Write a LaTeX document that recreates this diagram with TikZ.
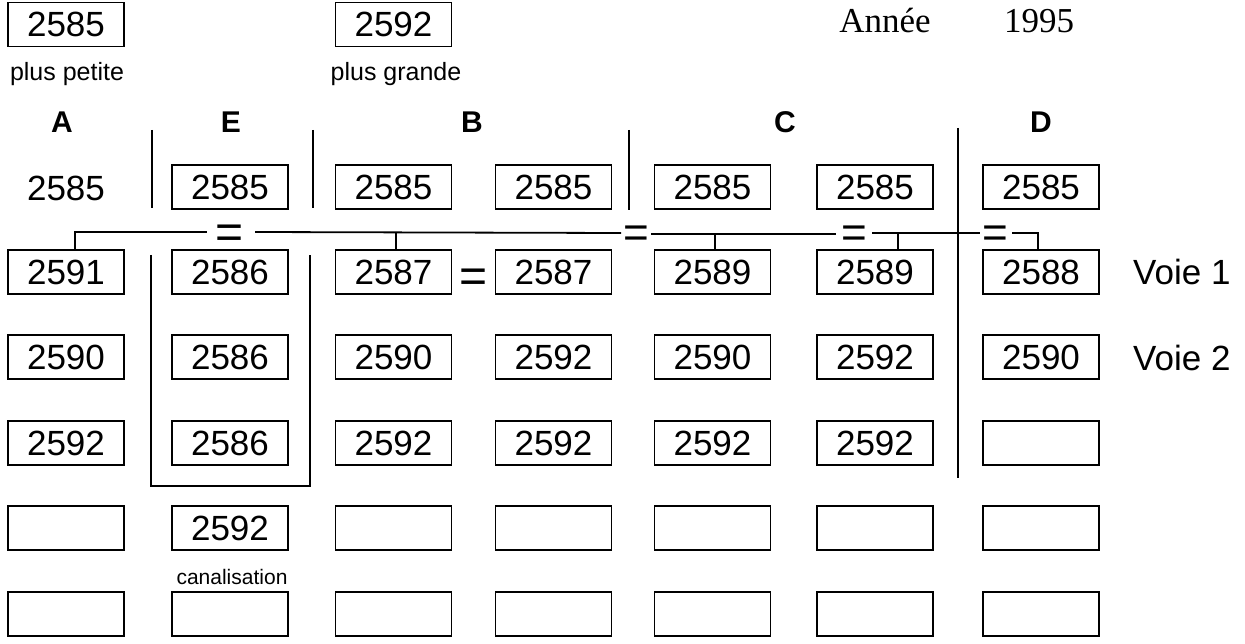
\documentclass[tikz,border=0pt]{standalone}
\usepackage{fontspec}
\setmainfont{Liberation Sans}
\newfontfamily\timesf{Liberation Serif}
\begin{document}
\begin{tikzpicture}[x=1pt,y=-1pt,
  numbox/.style={draw, line width=1.4pt, minimum width=116pt, minimum height=44pt, inner sep=0pt, font=\fontsize{35}{35}\selectfont},
  numtext/.style={inner sep=0pt, font=\fontsize{35}{35}\selectfont},
  head/.style={inner sep=0pt, font=\bfseries\fontsize{30}{30}\selectfont},
  smalltext/.style={inner sep=0pt, font=\fontsize{25}{25}\selectfont},
  tinytext/.style={inner sep=0pt, font=\fontsize{21}{21}\selectfont},
  serift/.style={inner sep=0pt, font=\timesf\fontsize{35}{35}\selectfont},
  eqsign/.style={inner sep=0pt, font=\fontsize{48}{48}\selectfont},
  eqsmall/.style={inner sep=0pt, font=\fontsize{44}{44}\selectfont},
  sepline/.style={line width=2.2pt},
  link/.style={line width=1.8pt}]
\useasboundingbox (0,0) rectangle (1245,644);

% top
\node[numbox] (min) at (66,24.5) {2585};
\node[smalltext] (minlab) at (67,74) {plus petite};
\node[numbox] (max) at (393.5,24.5) {2592};
\node[smalltext] (maxlab) at (396,74) {plus grande};
\node[serift] (annee) at (885,21) {Année};
\node[serift] (year) at (1039,21) {1995};

% headers
\node[head] (hA) at (62,122) {A};
\node[head] (hE) at (231,122) {E};
\node[head] (hB) at (472,122) {B};
\node[head] (hC) at (785,122) {C};
\node[head] (hD) at (1041,122) {D};

% row 0
\node[numtext] (A0) at (66,188) {2585};
\node[numbox] (E0) at (230,187) {2585};
\node[numbox] (B10) at (393.5,187) {2585};
\node[numbox] (B20) at (553.5,187) {2585};
\node[numbox] (C10) at (712.5,187) {2585};
\node[numbox] (C20) at (875,187) {2585};
\node[numbox] (D0) at (1041,187) {2585};

% row 1
\node[numbox] (A1) at (66,272) {2591};
\node[numbox] (E1) at (230,272) {2586};
\node[numbox] (B11) at (393.5,272) {2587};
\node[numbox] (B21) at (553.5,272) {2587};
\node[numbox] (C11) at (712.5,272) {2589};
\node[numbox] (C21) at (875,272) {2589};
\node[numbox] (D1) at (1041,272) {2588};
\node[eqsign] (eqB) at (473.5,281) {=};
\node[numtext,anchor=west] (voie1) at (1133,272) {Voie 1};

% row 2
\node[numbox] (A2) at (66,357) {2590};
\node[numbox] (E2) at (230,357) {2586};
\node[numbox] (B12) at (393.5,357) {2590};
\node[numbox] (B22) at (553.5,357) {2592};
\node[numbox] (C12) at (712.5,357) {2590};
\node[numbox] (C22) at (875,357) {2592};
\node[numbox] (D2) at (1041,357) {2590};
\node[numtext,anchor=west] (voie2) at (1133,358) {Voie 2};

% row 3
\node[numbox] (A3) at (66,443) {2592};
\node[numbox] (E3) at (230,443) {2586};
\node[numbox] (B13) at (393.5,443) {2592};
\node[numbox] (B23) at (553.5,443) {2592};
\node[numbox] (C13) at (712.5,443) {2592};
\node[numbox] (C23) at (875,443) {2592};
\node[numbox] (D3) at (1041,443) {};

% row 4
\node[numbox] (A4) at (66,528) {};
\node[numbox] (E4) at (230,528) {2592};
\node[numbox] (B14) at (393.5,528) {};
\node[numbox] (B24) at (553.5,528) {};
\node[numbox] (C14) at (712.5,528) {};
\node[numbox] (C24) at (875,528) {};
\node[numbox] (D4) at (1041,528) {};
\node[tinytext] (canal) at (232,577) {canalisation};

% row 5
\node[numbox] (A5) at (66,614) {};
\node[numbox] (E5) at (230,614) {};
\node[numbox] (B15) at (393.5,614) {};
\node[numbox] (B25) at (553.5,614) {};
\node[numbox] (C15) at (712.5,614) {};
\node[numbox] (C25) at (875,614) {};
\node[numbox] (D5) at (1041,614) {};

% separators
\draw[sepline] (152,130) -- (152,208);
\draw[sepline] (313,130) -- (313,208);
\draw[sepline] (629,130) -- (629,210);
\draw[sepline] (958,128) -- (958,478);
% canalisation bracket
\draw[sepline] (151,255) -- (151,486) -- (310,486) -- (310,255);

% equality connector
\node[eqsign] (eq1) at (230,237) {=};
\node[eqsmall] (eq2) at (636,237) {=};
\node[eqsmall] (eq3) at (854,237) {=};
\node[eqsmall] (eq4) at (995,237) {=};
\coordinate (cA) at (75,232);
\coordinate (tB) at (396,232);
\coordinate (tC1) at (715,234);
\coordinate (tC2) at (898,233);
\coordinate (cD) at (1038,233);
\draw[link] (cA |- A1.north) -- (cA) -- (207,232);
\draw[link] (255,232) -- (621,233);
\draw[link] (tB) -- (tB |- B11.north);
\draw[link] (651,234) -- (836,234);
\draw[link] (tC1) -- (tC1 |- C11.north);
\draw[link] (872,233) -- (980,233);
\draw[link] (tC2) -- (tC2 |- C21.north);
\draw[link] (1012,233) -- (cD) -- (cD |- D1.north);
\end{tikzpicture}
\end{document}
